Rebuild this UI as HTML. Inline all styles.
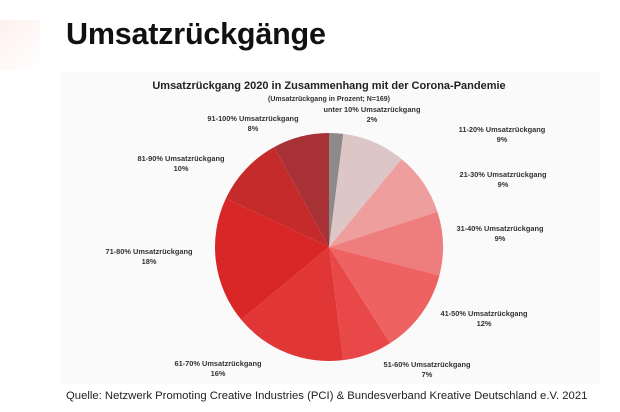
<!DOCTYPE html>
<html><head><meta charset="utf-8"><style>
body{margin:0;width:620px;height:412px;background:#fff;overflow:hidden;font-family:"Liberation Sans",sans-serif;position:relative}
h1{position:absolute;left:66px;top:17px;margin:0;font-size:30.5px;font-weight:bold;color:#111;letter-spacing:-0.2px}
.card{position:absolute;left:60px;top:72px;width:540px;height:312px;background:#fafafa}
.src{position:absolute;left:66px;top:390px;font-size:11.3px;color:#222;white-space:nowrap}
.deco{position:absolute;left:0;top:20px;width:40px;height:50px;background:linear-gradient(135deg,#fdf0ee,#fff);}
</style></head><body>
<div class="deco"></div>
<h1>Umsatzrückgänge</h1>
<div class="card"></div>
<svg width="620" height="412" style="position:absolute;left:0;top:0" id="s" font-family="Liberation Sans, sans-serif">
<text x="329" y="89" text-anchor="middle" font-size="11" font-weight="bold" fill="#222">Umsatzrückgang 2020 in Zusammenhang mit der Corona-Pandemie</text>
<text x="329" y="101" text-anchor="middle" font-size="7" font-weight="bold" fill="#333">(Umsatzrückgang in Prozent; N=169)</text>
</svg>
<div class="src">Quelle: Netzwerk Promoting Creative Industries (PCI) &amp; Bundesverband Kreative Deutschland e.V. 2021</div>
<script>
var s=document.getElementById('s'),cx=329,cy=247,r=114;
var v=[2,9,9,9,12,7,16,18,10,8];
var c=['#8f8a8a','#dcc6c6','#ef9e9e','#ee7e7e','#ef6262','#e84848','#e03636','#d92626','#c52b2b','#a83135'];
var a=0,h='';
for(var i=0;i<v.length;i++){var b=a+v[i]/100*2*Math.PI;
var x1=cx+r*Math.sin(a),y1=cy-r*Math.cos(a),x2=cx+r*Math.sin(b),y2=cy-r*Math.cos(b);
h+='<path d="M'+cx+' '+cy+'L'+x1+' '+y1+'A'+r+' '+r+' 0 '+(v[i]>50?1:0)+' 1 '+x2+' '+y2+'Z" fill="'+c[i]+'"/>';a=b;}
var L=[[372,112,'unter 10% Umsatzrückgang','2%'],[502,132,'11-20% Umsatzrückgang','9%'],[503,177,'21-30% Umsatzrückgang','9%'],[500,231,'31-40% Umsatzrückgang','9%'],[484,316,'41-50% Umsatzrückgang','12%'],[427,367,'51-60% Umsatzrückgang','7%'],[218,366,'61-70% Umsatzrückgang','16%'],[149,254,'71-80% Umsatzrückgang','18%'],[181,161,'81-90% Umsatzrückgang','10%'],[253,121,'91-100% Umsatzrückgang','8%']];
L.forEach(function(l){h+='<text x="'+l[0]+'" y="'+l[1]+'" text-anchor="middle" font-size="7.4" font-weight="bold" fill="#333">'+l[2]+'</text><text x="'+l[0]+'" y="'+(l[1]+10)+'" text-anchor="middle" font-size="7.4" font-weight="bold" fill="#333">'+l[3]+'</text>';});
s.insertAdjacentHTML('beforeend',h);
</script>
</body></html>
